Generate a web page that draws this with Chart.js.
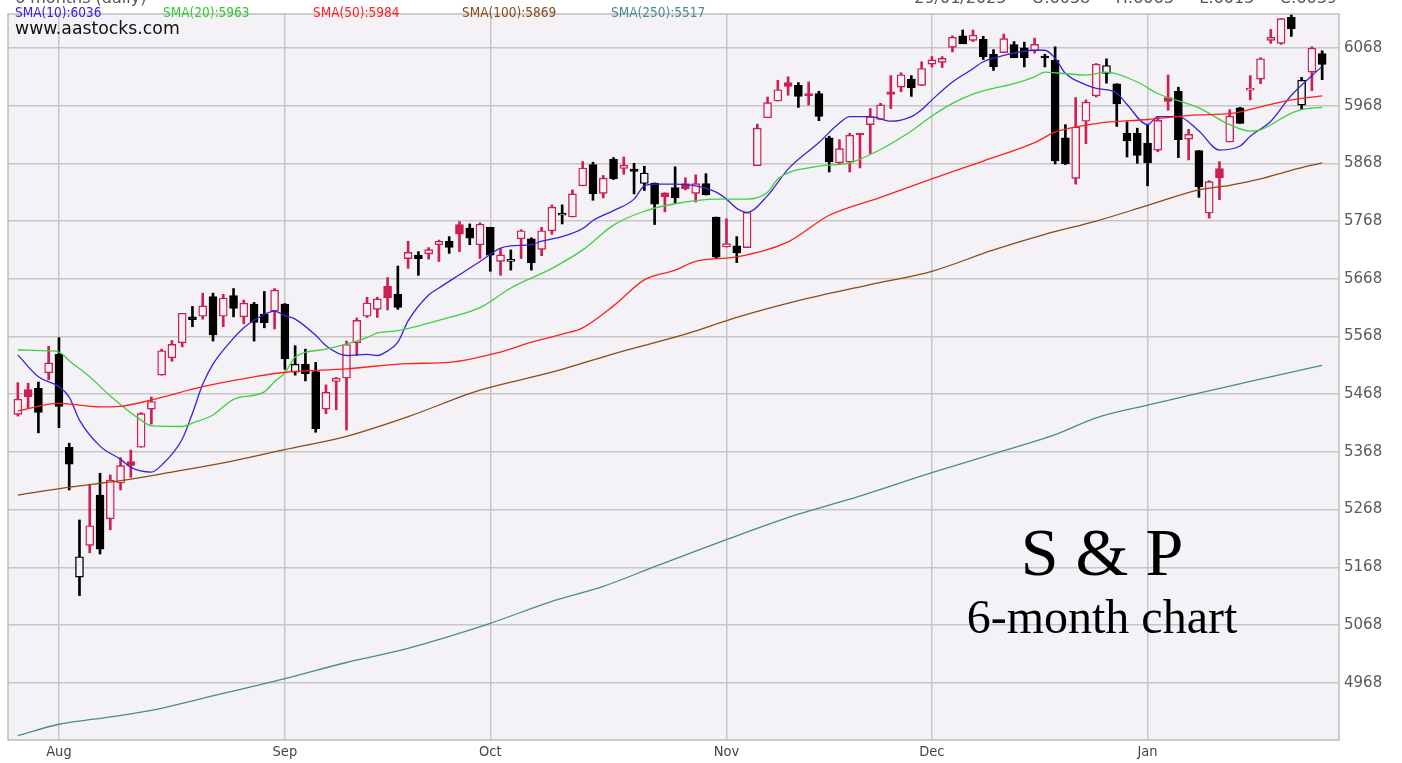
<!DOCTYPE html>
<html><head><meta charset="utf-8">
<script src="https://cdn.jsdelivr.net/npm/chart.js@4.4.1/dist/chart.umd.min.js"></script>
<style>html,body{margin:0;padding:0;background:#fff;}canvas{display:block}</style>
</head><body>
<canvas id="c" width="1402" height="763"></canvas>
<script>
// ---- data ----
const dates = ['07/26','07/29','07/30','07/31',
'08/01','08/02','08/05','08/06','08/07','08/08','08/09','08/12','08/13','08/14','08/15','08/16','08/19','08/20','08/21','08/22','08/23','08/26','08/27','08/28','08/29','08/30',
'09/03','09/04','09/05','09/06','09/09','09/10','09/11','09/12','09/13','09/16','09/17','09/18','09/19','09/20','09/23','09/24','09/25','09/26','09/27','09/30',
'10/01','10/02','10/03','10/04','10/07','10/08','10/09','10/10','10/11','10/14','10/15','10/16','10/17','10/18','10/21','10/22','10/23','10/24','10/25','10/28','10/29','10/30','10/31',
'11/01','11/04','11/05','11/06','11/07','11/08','11/11','11/12','11/13','11/14','11/15','11/18','11/19','11/20','11/21','11/22','11/25','11/26','11/27','11/29',
'12/02','12/03','12/04','12/05','12/06','12/09','12/10','12/11','12/12','12/13','12/16','12/17','12/18','12/19','12/20','12/23','12/24','12/26','12/27','12/30','12/31',
'01/02','01/03','01/06','01/07','01/08','01/10','01/13','01/14','01/15','01/16','01/17','01/21','01/22','01/23','01/24','01/27','01/28','01/29'];

const opens = [5433,5476,5478,5505,
5537,5376,5151,5206,5293,5252,5314,5351,5376,5442,5501,5531,5557,5602,5603,5637,5603,5639,5602,5624,5607,5612,
5624,5506,5520,5507,5442,5490,5496,5557,5603,5615,5655,5641,5703,5709,5711,5727,5733,5762,5756,5727,
5757,5698,5698,5737,5737,5719,5751,5778,5775,5829,5866,5816,5875,5859,5858,5833,5834,5817,5826,5833,5816,5833,5775,
5723,5725,5722,5864,5947,5976,6008,6003,5986,5989,5912,5869,5870,5918,5935,5944,5992,6000,6014,6003,
6040,6043,6069,6089,6081,6083,6057,6060,6074,6068,6063,6052,6047,5912,5842,5941,5985,6024,6006,5920,5920,
5903,5891,5982,5993,5910,5890,5782,5859,5905,5964,5995,6014,6081,6076,6121,5969,6026,6058];

const highs = [5488,5487,5489,5551,
5566,5383,5250,5312,5331,5328,5358,5371,5436,5463,5546,5561,5608,5620,5643,5643,5641,5651,5631,5627,5646,5651,
5625,5552,5546,5523,5484,5497,5560,5600,5636,5636,5670,5690,5733,5715,5722,5735,5741,5767,5763,5765,
5757,5720,5718,5753,5739,5757,5796,5796,5822,5871,5870,5847,5878,5879,5868,5863,5834,5817,5862,5843,5848,5850,5775,
5772,5741,5783,5936,5983,6012,6018,6008,6009,5993,5915,5909,5920,5920,5963,5972,6020,6025,6020,6044,
6053,6053,6089,6099,6099,6088,6065,6092,6079,6078,6085,6057,6070,5935,5982,5978,6041,6049,6006,5940,5929,
5935,5949,6021,6000,5927,5890,5838,5871,5961,5965,6020,6051,6100,6119,6128,6017,6070,6063];

const lows = [5430,5444,5401,5493,
5410,5302,5119,5193,5191,5233,5302,5324,5376,5416,5501,5525,5550,5585,5598,5560,5585,5602,5590,5560,5583,5581,
5511,5501,5491,5402,5434,5441,5406,5535,5601,5601,5614,5615,5686,5674,5702,5698,5712,5715,5727,5703,
5681,5674,5683,5703,5683,5708,5745,5763,5775,5829,5804,5808,5840,5849,5815,5821,5762,5784,5799,5822,5801,5813,5703,
5723,5696,5722,5864,5947,5976,5986,5965,5969,5942,5853,5866,5853,5860,5885,5944,5963,5992,5984,6003,
6035,6034,6061,6079,6079,6048,6029,6060,6051,6035,6059,6035,5867,5866,5832,5902,5983,6007,5932,5879,5868,
5829,5888,5960,5878,5874,5809,5773,5805,5905,5937,5978,6006,6076,6074,6088,5962,5994,6013];

const closes = [5459.1,5463.5,5436.4,5522.3,
5446.7,5346.6,5186.3,5240.0,5199.5,5319.3,5344.2,5344.4,5434.4,5455.2,5543.2,5554.3,5608.3,5597.1,5620.9,5570.6,5634.6,5616.8,5625.8,5592.2,5592.0,5648.4,
5528.9,5520.1,5503.4,5408.4,5471.1,5495.5,5554.1,5595.8,5626.0,5633.1,5634.6,5618.3,5713.6,5702.6,5718.6,5732.9,5722.3,5745.4,5738.2,5762.5,
5708.8,5709.5,5699.9,5751.1,5695.9,5751.1,5792.0,5780.1,5815.0,5859.9,5815.3,5842.5,5841.5,5864.7,5854.0,5851.2,5797.4,5809.9,5808.1,5823.5,5832.9,5813.7,5705.5,
5728.8,5712.7,5782.8,5929.0,5973.1,5995.5,6001.4,5984.0,5985.4,5949.2,5870.6,5893.6,5917.0,5917.1,5948.7,5969.3,5987.4,6021.6,5998.7,6032.4,
6047.2,6049.9,6086.5,6075.1,6090.3,6052.9,6034.9,6084.2,6051.3,6051.1,6074.1,6050.6,5872.2,5867.1,5930.9,5974.1,6040.0,6037.6,5970.8,5906.9,5881.6,
5868.6,5942.5,5975.4,5909.0,5918.3,5827.0,5836.2,5842.9,5949.9,5937.3,5996.7,6049.2,6086.4,6118.7,6101.2,6012.3,6067.7,6039.3];

const prevCloseBefore = 5399.2; // close before the first candle

// moving averages: [day index, value]
const sma10 = [[0,5536],[2,5498],[4,5481],[5,5463],[6,5423],[8,5378],[10,5355],[11,5341],[13,5333],[14,5345],[16,5390],[17,5435],[18,5485],[19,5520],[21,5565],[22,5583],[23,5596],[25,5612],[26,5604],[27,5598],[29,5570],[30,5552],[32,5535],[34,5537],[35,5535],[36,5543],[37,5558],[38,5595],[40,5640],[41,5652],[43,5675],[45,5698],[47,5721],[48,5725],[50,5727],[51,5733],[53,5741],[55,5755],[56,5769],[58,5786],[60,5806],[61,5829],[62,5832],[64,5832],[66,5829],[68,5818],[69,5806],[70,5790],[71,5783],[73,5812],[75,5858],[78,5904],[80,5938],[81,5949],[83,5949],[85,5941],[87,5949],[88,5961],[89,5978],[91,6009],[93,6032],[94,6044],[96,6055],[99,6064],[100,6064],[101,6050],[102,6024],[104,6004],[105,5998],[107,5990],[108,5970],[110,5935],[111,5949],[113,5949],[115,5924],[117,5891],[119,5898],[120,5915],[122,5941],[124,5986],[127,6036]];
const sma20 = [[0,5545],[3,5543],[4,5541],[5,5526],[7,5498],[9,5465],[12,5423],[13,5413],[16,5412],[17,5418],[19,5432],[21,5459],[24,5472],[25,5490],[26,5505],[27,5532],[30,5546],[34,5566],[35,5574],[37,5578],[42,5601],[45,5618],[48,5652],[52,5686],[55,5718],[58,5761],[61,5785],[64,5798],[68,5806],[71,5806],[73,5818],[74,5841],[78,5863],[81,5869],[84,5892],[87,5924],[89,5950],[91,5972],[93,5988],[95,5998],[97,6006],[99,6018],[100,6026],[101,6025],[104,6021],[106,6026],[109,6009],[111,5989],[115,5964],[118,5935],[120,5924],[121,5926],[124,5955],[125,5961],[127,5965]];
const sma50 = [[0,5439],[4,5452],[8,5446],[10,5447],[13,5458],[18,5481],[23,5498],[26,5506],[32,5512],[38,5521],[42,5523],[47,5541],[50,5558],[53,5572],[55,5583],[58,5621],[61,5666],[64,5683],[66,5698],[70,5706],[75,5732],[79,5778],[84,5809],[89,5841],[94,5872],[99,5904],[101,5922],[105,5937],[110,5944],[115,5952],[118,5954],[121,5966],[124,5978],[127,5985]];
const sma100 = [[0,5293],[5,5307],[10,5318],[15,5333],[20,5349],[26,5372],[32,5395],[38,5429],[45,5475],[52,5506],[58,5538],[65,5572],[70,5601],[76,5630],[83,5658],[89,5681],[95,5718],[100,5745],[105,5768],[110,5795],[115,5822],[118,5830],[121,5841],[124,5856],[127,5869]];
const sma250 = [[0,4876],[4,4896],[8,4906],[13,4920],[18,4941],[26,4975],[32,5003],[37,5023],[46,5071],[52,5109],[57,5135],[62,5169],[69,5216],[76,5260],[81,5286],[89,5332],[96,5370],[101,5398],[105,5427],[110,5449],[115,5470],[120,5490],[127,5518]];

const smaNames = ['SMA(10)','SMA(20)','SMA(50)','SMA(100)','SMA(250)'];
const smaLast = [6036,5963,5984,5869,5517];

const monthTickIdx = [4,26,46,69,89,110];
const monthLabels = ['Aug','Sep','Oct','Nov','Dec','Jan'];
const yTickValues = [4968,5068,5168,5268,5368,5468,5568,5668,5768,5868,5968,6068];

const headerLeft = '6 months (daily)';
const headerRight = '29/01/2025     O:6058     H:6063     L:6013     C:6039';
const siteLabel = 'www.aastocks.com';
const titleMain = 'S & P';
const titleSub = '6-month chart';

// ---- styling ----
const PLOT_BG = '#f4f2f6';
const RED = '#cc1f52';
const BLACK = '#000000';
const GRID = '#c6c6c6';
const smaColors = ['#3c22d0','#3fd03f','#ff1f1f','#8b4a16','#4a8c8c'];
const smaTextColors = ['#3c22d0','#33c833','#ff1f1f','#8b4a16','#4a8c8c'];
const smaTextX = [15,163,313,462,611];

function isRed(i){ const p = i===0 ? prevCloseBefore : closes[i-1]; return closes[i] >= p; }
function isFilled(i){ return closes[i] < opens[i]; }

const wickData = dates.map((d,i)=>({x:i, y:[lows[i], highs[i]]}));
const bodyData = dates.map((d,i)=>({x:i, y:[opens[i], closes[i]]}));
const toPts = arr => arr.map(p=>({x:p[0], y:p[1]}));

const bgPlugin = {
  id:'bgPlugin',
  beforeDraw(chart){
    const {ctx, chartArea:a} = chart;
    ctx.save();
    ctx.fillStyle='#ffffff'; ctx.fillRect(0,0,chart.width,chart.height);
    ctx.fillStyle=PLOT_BG; ctx.fillRect(a.left,a.top,a.right-a.left,a.bottom-a.top);
    ctx.restore();
  },
  afterDraw(chart){
    const {ctx, chartArea:a} = chart;
    ctx.save();
    ctx.strokeStyle='#bdbdbd'; ctx.lineWidth=1.5;
    ctx.strokeRect(a.left, a.top, a.right-a.left, a.bottom-a.top);
    // header (cut off at top)
    ctx.fillStyle='#555'; ctx.font='16px "DejaVu Sans", sans-serif'; ctx.textBaseline='alphabetic';
    ctx.textAlign='left'; ctx.fillText(headerLeft, 15, 3);
    ctx.textAlign='right'; ctx.fillText(headerRight, 1337, 3);
    // SMA legend
    ctx.textAlign='left';
    ctx.font='13.5px "DejaVu Sans Condensed", "DejaVu Sans", sans-serif';
    smaNames.forEach((n,k)=>{ ctx.fillStyle=smaTextColors[k]; ctx.fillText(n+':'+smaLast[k], smaTextX[k], 17); });
    ctx.fillStyle='#111'; ctx.font='17.3px "DejaVu Sans", sans-serif';
    ctx.fillText(siteLabel, 15, 34);
    // big title
    ctx.fillStyle='#000'; ctx.textAlign='center';
    ctx.font='68px "Liberation Serif", "Times New Roman", serif';
    ctx.fillText(titleMain, 1102, 575);
    ctx.font='48px "Liberation Serif", "Times New Roman", serif';
    ctx.fillText(titleSub, 1102, 633);
    ctx.restore();
  }
};

new Chart(document.getElementById('c'), {
  type:'bar',
  data:{
    datasets:[
      {type:'line', data:toPts(sma250), borderColor:smaColors[4], borderWidth:1.3, pointRadius:0, cubicInterpolationMode:'monotone', order:0},
      {type:'line', data:toPts(sma100), borderColor:smaColors[3], borderWidth:1.3, pointRadius:0, cubicInterpolationMode:'monotone', order:0},
      {type:'line', data:toPts(sma50), borderColor:smaColors[2], borderWidth:1.3, pointRadius:0, cubicInterpolationMode:'monotone', order:0},
      {type:'line', data:toPts(sma20), borderColor:smaColors[1], borderWidth:1.3, pointRadius:0, cubicInterpolationMode:'monotone', order:0},
      {type:'line', data:toPts(sma10), borderColor:smaColors[0], borderWidth:1.3, pointRadius:0, cubicInterpolationMode:'monotone', order:0},
      {type:'bar', data:bodyData, grouped:false, order:1, barThickness:8, minBarLength:2,
        borderWidth:1.4, borderSkipped:false,
        borderColor: c => isRed(c.dataIndex) ? RED : BLACK,
        backgroundColor: c => isFilled(c.dataIndex) ? (isRed(c.dataIndex) ? RED : BLACK) : PLOT_BG},
      {type:'bar', data:wickData, grouped:false, order:2, barThickness:2, borderWidth:0,
        backgroundColor: c => isRed(c.dataIndex) ? RED : BLACK}
    ]
  },
  options:{
    responsive:false, animation:false,
    layout:{padding:{left:8, top:6, right:0, bottom:0}},
    plugins:{legend:{display:false}, tooltip:{enabled:false}},
    scales:{
      x:{type:'linear', min:-0.96, max:128.64, offset:false,
        afterBuildTicks: s => { s.ticks = monthTickIdx.map(v=>({value:v})); },
        afterFit: s => { s.height = 23; },
        ticks:{autoSkip:false, maxRotation:0, padding:4, color:'#444',
          font:{family:'"DejaVu Sans Condensed", "DejaVu Sans", sans-serif', size:14.5},
          callback: v => monthLabels[monthTickIdx.indexOf(v)]},
        grid:{color:GRID, lineWidth:1.5, drawTicks:false, offset:false},
        border:{display:false}},
      y:{position:'right', min:4868.7, max:6126.8,
        afterBuildTicks: s => { s.ticks = yTickValues.map(v=>({value:v})); },
        afterFit: s => { s.width = 63; },
        ticks:{autoSkip:false, padding:5, color:'#5a5a5a',
          font:{family:'"DejaVu Sans", sans-serif', size:15},
          callback: v => String(v)},
        grid:{color:GRID, lineWidth:1.5, drawTicks:false},
        border:{display:false}}
    }
  },
  plugins:[bgPlugin]
});
</script>
</body></html>
